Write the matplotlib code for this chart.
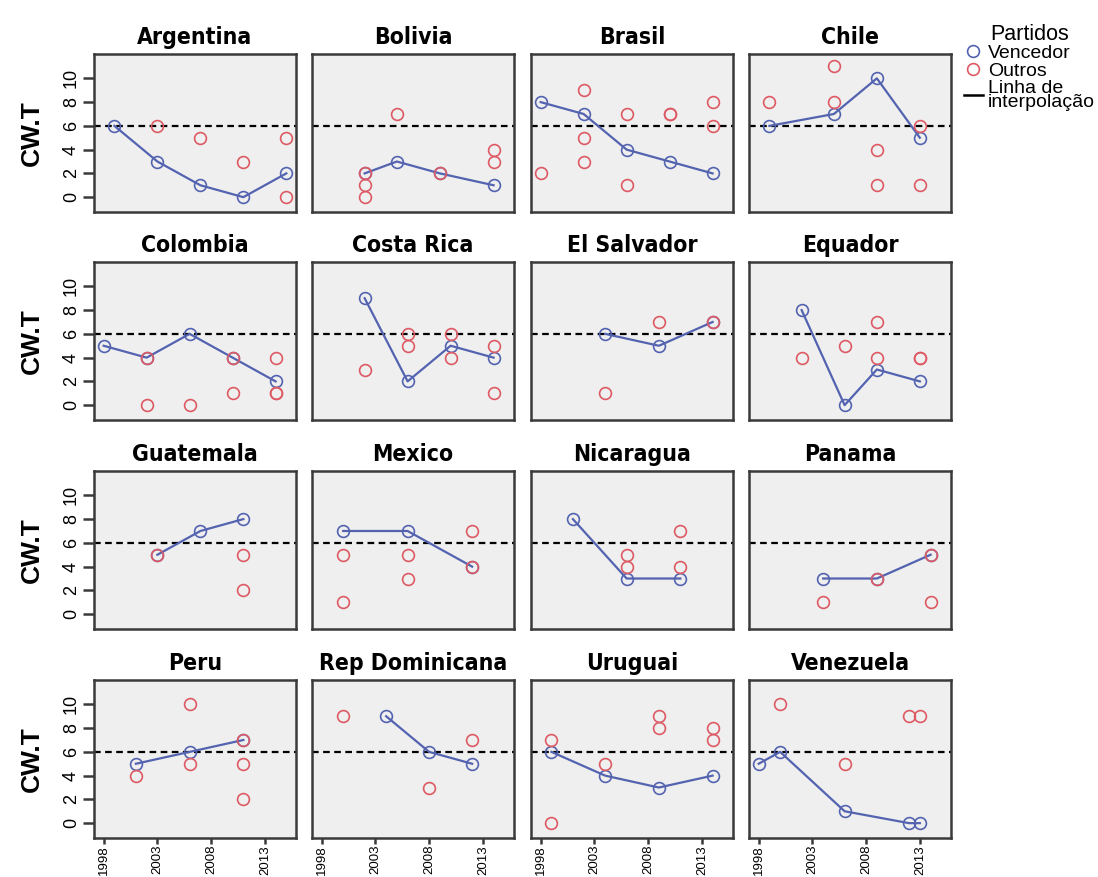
import numpy as np
import matplotlib
matplotlib.use("Agg")
import matplotlib.pyplot as plt
from matplotlib.lines import Line2D
from matplotlib import font_manager

# country panels, in reading order
countries = ["Argentina", "Bolivia", "Brasil", "Chile",
             "Colombia", "Costa Rica", "El Salvador", "Equador",
             "Guatemala", "Mexico", "Nicaragua", "Panama",
             "Peru", "Rep Dominicana", "Uruguai", "Venezuela"]

# winning party (Vencedor): election years and CW.T
winner_years = [[1999, 2003, 2007, 2011, 2015],
                [2002, 2005, 2009, 2014],
                [1998, 2002, 2006, 2010, 2014],
                [1999, 2005, 2009, 2013],
                [1998, 2002, 2006, 2010, 2014],
                [2002, 2006, 2010, 2014],
                [2004, 2009, 2014],
                [2002, 2006, 2009, 2013],
                [2003, 2007, 2011],
                [2000, 2006, 2012],
                [2001, 2006, 2011],
                [2004, 2009, 2014],
                [2001, 2006, 2011],
                [2004, 2008, 2012],
                [1999, 2004, 2009, 2014],
                [1998, 2000, 2006, 2012, 2013]]
winner_vals = [[6, 3, 1, 0, 2],
               [2, 3, 2, 1],
               [8, 7, 4, 3, 2],
               [6, 7, 10, 5],
               [5, 4, 6, 4, 2],
               [9, 2, 5, 4],
               [6, 5, 7],
               [8, 0, 3, 2],
               [5, 7, 8],
               [7, 7, 4],
               [8, 3, 3],
               [3, 3, 5],
               [5, 6, 7],
               [9, 6, 5],
               [6, 4, 3, 4],
               [5, 6, 1, 0, 0]]

# other parties (Outros)
other_years = [[2003, 2007, 2011, 2015, 2015],
               [2002, 2002, 2002, 2005, 2009, 2014, 2014],
               [1998, 2002, 2002, 2002, 2006, 2006, 2010, 2010, 2014, 2014],
               [1999, 2005, 2005, 2009, 2009, 2013, 2013],
               [2002, 2002, 2006, 2010, 2010, 2014, 2014, 2014],
               [2002, 2006, 2006, 2010, 2010, 2014, 2014],
               [2004, 2009, 2014],
               [2002, 2006, 2009, 2009, 2013, 2013],
               [2003, 2011, 2011],
               [2000, 2000, 2006, 2006, 2012, 2012],
               [2006, 2006, 2011, 2011],
               [2004, 2009, 2014, 2014],
               [2001, 2006, 2006, 2011, 2011, 2011],
               [2000, 2008, 2012],
               [1999, 1999, 2004, 2009, 2009, 2014, 2014],
               [2000, 2006, 2012, 2013]]
other_vals = [[6, 5, 3, 5, 0],
              [2, 1, 0, 7, 2, 4, 3],
              [2, 9, 5, 3, 7, 1, 7, 7, 8, 6],
              [8, 11, 8, 4, 1, 6, 1],
              [4, 0, 0, 4, 1, 4, 1, 1],
              [3, 6, 5, 6, 4, 5, 1],
              [1, 7, 7],
              [4, 5, 7, 4, 4, 4],
              [5, 5, 2],
              [5, 1, 5, 3, 4, 7],
              [5, 4, 7, 4],
              [1, 3, 5, 1],
              [4, 10, 5, 7, 5, 2],
              [9, 3, 7],
              [7, 0, 5, 9, 8, 8, 7],
              [10, 5, 9, 9]]

threshold = 6
year_ticks = [1998, 2003, 2008, 2013]
val_ticks = [0, 2, 4, 6, 8, 10]

blue = "#5363b0"
red = "#dd5a64"
frame = "#3a3a3a"

plt.rcParams['font.family'] = ['Liberation Sans', 'DejaVu Sans']

# condensed bold face for the panel titles, if one is around
names = {f.name for f in font_manager.fontManager.ttflist}
cond = [f for f in font_manager.fontManager.ttflist
        if f.name == "DejaVu Sans" and "ondensed" in str(f.stretch) + f.fname]
if "Liberation Sans Narrow" in names:
    title_kw = dict(family=["Liberation Sans Narrow", "DejaVu Sans"], fontsize=18)
elif cond:
    title_kw = dict(family=["DejaVu Sans"], stretch="condensed", fontsize=16.5)
else:
    title_kw = dict(family=["Liberation Sans", "DejaVu Sans"], fontsize=15)

W, H = 1098, 877
fig = plt.figure(figsize=(W / 100, H / 100), dpi=100)
fig.patch.set_facecolor("white")

col_left = [94, 312, 531, 749]
row_top = [54, 262, 471, 680]
pw, ph = 202, 158

for i, name in enumerate(countries):
    r, c = divmod(i, 4)
    ax = fig.add_axes([col_left[c] / W, 1 - (row_top[r] + ph) / H, pw / W, ph / H])
    ax.set_facecolor("#efefef")
    ax.axhline(threshold, color="black", ls=(0, (3, 2)), lw=1.6, zorder=1)
    ax.plot(winner_years[i], winner_vals[i], color=blue, lw=1.6, zorder=2)
    ax.plot(winner_years[i], winner_vals[i], "o", mfc="none", mec=blue,
            ms=8.5, mew=1.2, zorder=3)
    ax.plot(other_years[i], other_vals[i], "o", mfc="none", mec=red,
            ms=8.5, mew=1.2, zorder=4)
    ax.set_xlim(1997.1, 2015.9)
    ax.set_ylim(-1.25, 12.05)
    for s in ax.spines.values():
        s.set_color(frame)
        s.set_linewidth(1.8)
    ax.set_title(name, fontweight="bold", pad=7, **title_kw)

    ax.set_xticks(year_ticks)
    ax.set_yticks(val_ticks)
    ax.tick_params(axis="y", length=8, width=1.8, color=frame, labelsize=13, pad=2)
    ax.tick_params(axis="x", length=4, width=1.8, color=frame, labelsize=9.5, pad=1)
    if r == 3:
        ax.set_xticklabels([str(y) for y in year_ticks], rotation=90)
    else:
        ax.tick_params(axis="x", bottom=False, labelbottom=False)
    if c == 0:
        ax.set_yticklabels([str(v) for v in val_ticks], rotation=90, va="center")
        ax.set_ylabel("CW.T", fontsize=19, fontweight="bold", labelpad=14)
    else:
        ax.tick_params(axis="y", left=False, labelleft=False)

handles = [Line2D([], [], ls="none", marker="o", mfc="none", mec=blue, ms=8.5, mew=1.2),
           Line2D([], [], ls="none", marker="o", mfc="none", mec=red, ms=8.5, mew=1.2),
           Line2D([], [], color="black", lw=1.8)]
leg = fig.legend(handles, ["Vencedor", "Outros", "Linha de\ninterpolação"],
                 title="Partidos", loc="upper left", bbox_to_anchor=(950 / W, 1 - 10 / H),
                 frameon=False, fontsize=14, title_fontsize=15.5,
                 handlelength=1.0, handletextpad=0.25, labelspacing=0.0,
                 borderpad=0.2)
for t in leg.get_texts():
    t.set_linespacing(0.8)

fig.savefig("out.png", dpi=100)
